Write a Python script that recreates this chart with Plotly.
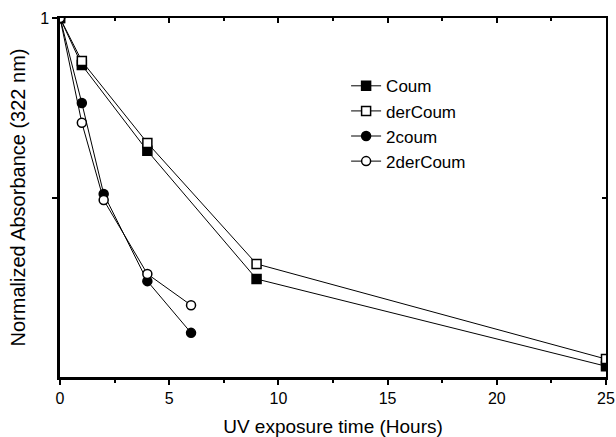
import plotly.graph_objects as go

# Exposure times (hours)
t_long = [0, 1, 4, 9, 25]
t_short = [0, 1, 2, 4, 6]

# Normalized absorbance at 322 nm
coum = [1.0, 0.869, 0.630, 0.273, 0.030]
der_coum = [1.0, 0.880, 0.652, 0.315, 0.050]
two_coum = [1.0, 0.763, 0.510, 0.267, 0.123]
two_der_coum = [1.0, 0.708, 0.493, 0.287, 0.200]

series = [
    ("Coum", t_long, coum, "square", "black"),
    ("derCoum", t_long, der_coum, "square", "white"),
    ("2coum", t_short, two_coum, "circle", "black"),
    ("2derCoum", t_short, two_der_coum, "circle", "white"),
]

fig = go.Figure()
for name, xs, ys, sym, fill in series:
    fig.add_trace(go.Scatter(
        x=xs, y=ys, name=name, mode="lines+markers",
        line=dict(color="black", width=1),
        marker=dict(symbol=sym, size=9, color=fill,
                    line=dict(color="black", width=1.5)),
    ))

# empty trace to carry the mirrored top/right axes
fig.add_trace(go.Scatter(x=[], y=[], xaxis="x2", yaxis="y2",
                         showlegend=False, hoverinfo="skip"))

font = "Liberation Sans, Arial, sans-serif"
fig.update_layout(
    width=616, height=437,
    margin=dict(l=60, r=10, t=18, b=60, autoexpand=False),
    paper_bgcolor="white", plot_bgcolor="white",
    font=dict(family=font, color="black", size=14),
    showlegend=True,
    legend=dict(x=0.524, y=0.86, xanchor="left", yanchor="top",
                bgcolor="rgba(0,0,0,0)", font=dict(size=17),
                tracegroupgap=0),
    xaxis=dict(
        range=[0, 25], tickvals=[0, 5, 10, 15, 20, 25],
        ticks="outside", ticklen=5, tickwidth=1.5, tickcolor="black",
        minor=dict(tickvals=[2.5, 7.5, 12.5, 17.5, 22.5], ticks="outside",
                   ticklen=3, tickwidth=1.5, tickcolor="black"),
        showline=True, linecolor="black", linewidth=2.5,
        showgrid=False, zeroline=False, automargin=False,
        tickfont=dict(size=16),
        title=dict(text="UV exposure time (Hours)", font=dict(size=19), standoff=16),
    ),
    yaxis=dict(
        range=[0, 1], tickvals=[0.5, 1], ticktext=["", "1"],
        ticks="outside", ticklen=5, tickwidth=1.5, tickcolor="black",
        showline=True, linecolor="black", linewidth=2.5,
        showgrid=False, zeroline=False, automargin=False,
        tickfont=dict(size=16),
        title=dict(text="Normalized Absorbance (322 nm)", font=dict(size=20), standoff=10),
    ),
    xaxis2=dict(
        overlaying="x", side="top", range=[0, 25],
        tickvals=[0, 5, 10, 15, 20, 25], showticklabels=False,
        ticks="inside", ticklen=5, tickwidth=1.5, tickcolor="black",
        minor=dict(tickvals=[2.5, 7.5, 12.5, 17.5, 22.5], ticks="inside",
                   ticklen=3, tickwidth=1.5, tickcolor="black"),
        showline=True, linecolor="black", linewidth=1.5,
        showgrid=False, zeroline=False, automargin=False,
    ),
    yaxis2=dict(
        overlaying="y", side="right", range=[0, 1],
        tickvals=[0.5, 1], showticklabels=False,
        ticks="inside", ticklen=4, tickwidth=1.5, tickcolor="black",
        showline=True, linecolor="black", linewidth=1.5,
        showgrid=False, zeroline=False, automargin=False,
    ),
)

fig.write_html("out.html")
